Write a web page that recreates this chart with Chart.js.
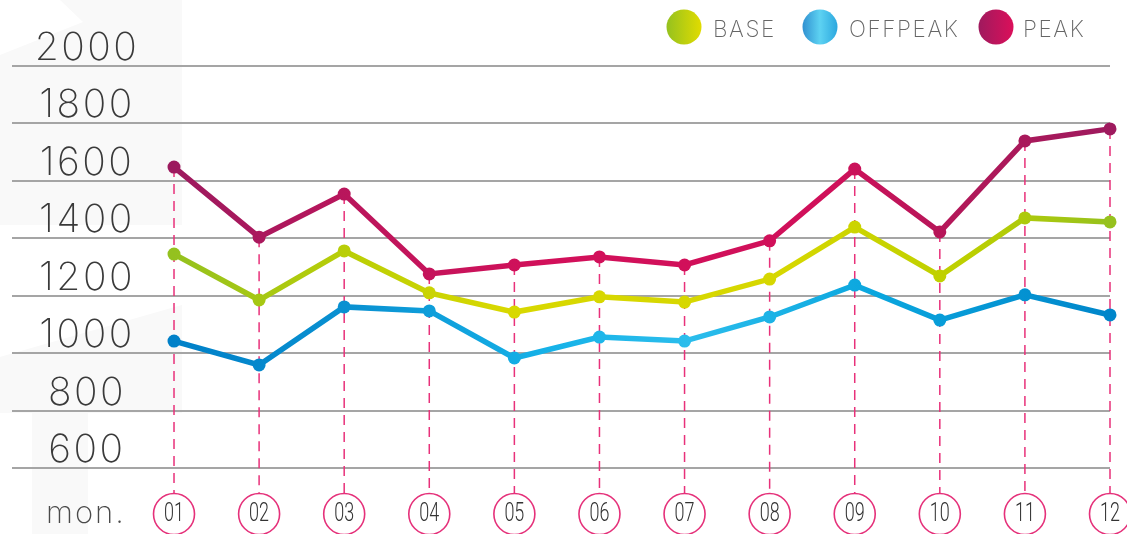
<!DOCTYPE html>
<html lang="en">
<head>
    <meta charset="UTF-8">
    <title>Base / Offpeak / Peak</title>
    <script src="https://cdn.jsdelivr.net/npm/chart.js"></script>
    <style>
        body {
            margin: 0;
            padding: 0;
            background: #fff;
        }
        .wrap {
            width: 1127px;
            height: 534px;
            position: relative;
        }
    </style>
</head>
<body>

<div class="wrap">
    <canvas id="priceChart"></canvas>
</div>

<script>
    // Chart data
    const months = ["01", "02", "03", "04", "05", "06", "07", "08", "09", "10", "11", "12"];
    const peak = [1648, 1404, 1554, 1276, 1307, 1335, 1307, 1391, 1641, 1422, 1739, 1781];
    const base = [1345, 1185, 1356, 1210, 1143, 1196, 1178, 1258, 1439, 1269, 1471, 1457];
    const offpeak = [1042, 959, 1161, 1147, 983, 1056, 1042, 1126, 1237, 1115, 1203, 1133];
    const yTicks = [600, 800, 1000, 1200, 1400, 1600, 1800, 2000];
    const seriesNames = ["BASE", "OFFPEAK", "PEAK"];

    // colour stops left -> right across the plot
    const peakStops = [[0, '#9c1a5e'], [0.25, '#c3145b'], [0.4, '#d2105a'], [0.7, '#d0105a'], [0.85, '#b01859'], [1, '#9e1a5e']];
    const baseStops = [[0, '#94c11f'], [0.2, '#bccf05'], [0.35, '#d8d800'], [0.65, '#d6d700'], [0.85, '#bccf00'], [1, '#96c11e']];
    const offStops = [[0, '#0080c8'], [0.2, '#0a92d2'], [0.4, '#16b2e8'], [0.55, '#2bbdec'], [0.75, '#0aa6de'], [1, '#0086ca']];

    const thinFont = 'Inter, Lato, "Open Sans", sans-serif';

    function lineGradient(chart, stops) {
        const area = chart.chartArea;
        const x = chart.scales.x;
        if (!area) return stops[0][1];
        const g = chart.ctx.createLinearGradient(x.getPixelForValue(1), 0, x.getPixelForValue(12), 0);
        stops.forEach(s => g.addColorStop(s[0], s[1]));
        return g;
    }

    function pts(arr) {
        return arr.map((v, i) => ({ x: i + 1, y: v }));
    }

    function makeSet(label, arr, stops) {
        const col = (c) => lineGradient(c.chart, stops);
        return {
            label: label,
            data: pts(arr),
            borderColor: col,
            backgroundColor: col,
            pointBackgroundColor: col,
            pointBorderColor: col,
            borderWidth: 5.5,
            pointRadius: 6.5,
            pointBorderWidth: 0,
            tension: 0,
            clip: false
        };
    }

    function spaced(ctx, px) {
        if ('letterSpacing' in ctx) ctx.letterSpacing = px + 'px';
    }

    // faint background shapes
    const bgShapes = {
        id: 'bgShapes',
        beforeDraw(chart) {
            const ctx = chart.ctx;
            ctx.save();
            ctx.fillStyle = '#f9f9f9';
            ctx.beginPath();
            ctx.moveTo(60, 0); ctx.lineTo(182, 0); ctx.lineTo(182, 225); ctx.lineTo(0, 225);
            ctx.lineTo(0, 55); ctx.lineTo(83, 22); ctx.closePath();
            ctx.fill();
            ctx.beginPath();
            ctx.moveTo(0, 357); ctx.lineTo(182, 305); ctx.lineTo(182, 413); ctx.lineTo(88, 413);
            ctx.lineTo(88, 534); ctx.lineTo(32, 534); ctx.lineTo(32, 413); ctx.lineTo(0, 413);
            ctx.closePath();
            ctx.fill();
            ctx.restore();
        }
    };

    // y labels above grid lines + dashed month guides
    const decorations = {
        id: 'decorations',
        beforeDatasetsDraw(chart) {
            const ctx = chart.ctx;
            const x = chart.scales.x;
            const y = chart.scales.y;
            ctx.save();
            ctx.fillStyle = '#3a3a3a';
            ctx.font = '200 39px ' + thinFont;
            ctx.textAlign = 'center';
            ctx.textBaseline = 'alphabetic';
            spaced(ctx, 2.5);
            yTicks.forEach(t => {
                ctx.fillText(String(t), 87, y.getPixelForValue(t) - 6);
            });
            spaced(ctx, 0);

            ctx.strokeStyle = '#e8317a';
            ctx.lineWidth = 1.5;
            ctx.setLineDash([10, 7]);
            months.forEach((m, i) => {
                const px = x.getPixelForValue(i + 1);
                const top = y.getPixelForValue(Math.max(peak[i], base[i], offpeak[i]));
                ctx.beginPath();
                ctx.moveTo(px, top);
                ctx.lineTo(px, 493);
                ctx.stroke();
            });
            ctx.restore();
        },
        afterDraw(chart) {
            const ctx = chart.ctx;
            const x = chart.scales.x;
            ctx.save();
            // month circles
            months.forEach((m, i) => {
                const px = x.getPixelForValue(i + 1);
                ctx.beginPath();
                ctx.arc(px, 514, 20.5, 0, Math.PI * 2);
                ctx.fillStyle = '#fff';
                ctx.fill();
                ctx.strokeStyle = '#e5317a';
                ctx.lineWidth = 1.6;
                ctx.stroke();
                // condensed look: squeeze the label horizontally
                ctx.save();
                ctx.translate(px, 515);
                ctx.scale(0.72, 1);
                ctx.fillStyle = '#333';
                ctx.font = '300 25px Roboto, sans-serif';
                ctx.textAlign = 'center';
                ctx.textBaseline = 'middle';
                ctx.fillText(m, 0, 0);
                ctx.restore();
            });
            ctx.fillStyle = '#4a4a4a';
            ctx.font = '200 31px ' + thinFont;
            ctx.textAlign = 'left';
            ctx.textBaseline = 'alphabetic';
            spaced(ctx, 2);
            ctx.fillText('mon.', 46, 523);
            spaced(ctx, 0);

            // legend
            const legendStops = [
                [[0, '#94c11f'], [1, '#e2dc00']],
                [[0, '#2f8fd0'], [0.5, '#5dd2f2'], [1, '#2aa6de']],
                [[0, '#9e1a5e'], [1, '#dc0f5a']]
            ];
            const cx = [684, 820, 996];
            const tx = [713, 849, 1023];
            seriesNames.forEach((name, i) => {
                const g = ctx.createLinearGradient(cx[i] - 18, 0, cx[i] + 18, 0);
                legendStops[i].forEach(s => g.addColorStop(s[0], s[1]));
                ctx.beginPath();
                ctx.arc(cx[i], 27, 17.5, 0, Math.PI * 2);
                ctx.fillStyle = g;
                ctx.fill();
                ctx.fillStyle = '#666';
                ctx.font = '200 22.5px ' + thinFont;
                ctx.textAlign = 'left';
                ctx.textBaseline = 'middle';
                spaced(ctx, 1.6);
                ctx.fillText(name, tx[i], 30);
                spaced(ctx, 0);
            });
            ctx.restore();
        }
    };

    const ctx = document.getElementById('priceChart').getContext('2d');
    const priceChart = new Chart(ctx, {
        type: 'line',
        data: {
            datasets: [
                makeSet('OFFPEAK', offpeak, offStops),
                makeSet('BASE', base, baseStops),
                makeSet('PEAK', peak, peakStops)
            ]
        },
        options: {
            responsive: true,
            maintainAspectRatio: false,
            animation: false,
            layout: {
                padding: { left: 12, right: 17, top: 66, bottom: 66 }
            },
            plugins: {
                legend: { display: false },
                tooltip: { enabled: false }
            },
            scales: {
                x: {
                    type: 'linear',
                    display: false,
                    min: -0.904,
                    max: 12
                },
                y: {
                    min: 600,
                    max: 2000,
                    border: { display: false },
                    ticks: { display: false, stepSize: 200 },
                    grid: { color: '#a5a5a5', lineWidth: 2, drawTicks: false },
                    afterFit: (s) => { s.width = 0; }
                }
            }
        },
        plugins: [bgShapes, decorations]
    });
</script>

</body>
</html>
